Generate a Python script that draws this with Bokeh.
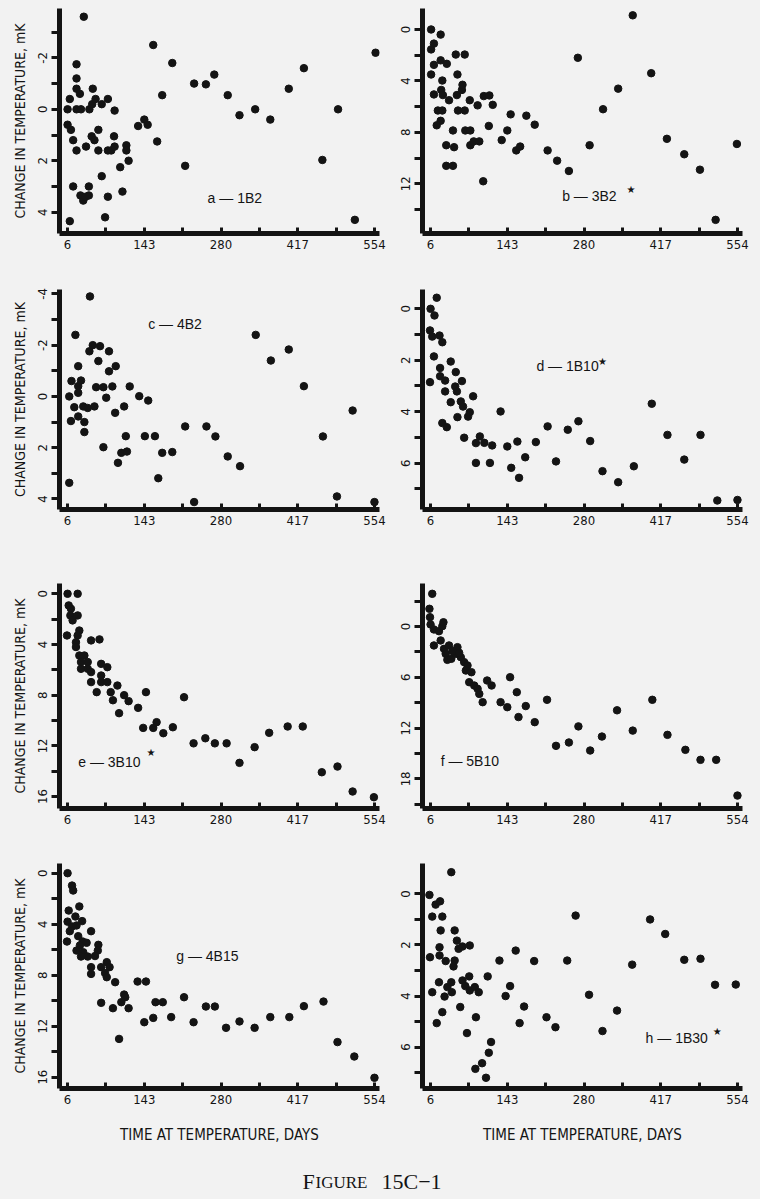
from bokeh.plotting import figure
from bokeh.layouts import column, row
from bokeh.models import Range1d, FixedTicker, Label
from bokeh.embed import file_html
from bokeh.resources import INLINE

# ---------------- data ----------------
x_ticks = [6, 74.5, 143, 211.5, 280, 348.5, 417, 485.5, 554]
x_tick_labels = ["6", "", "143", "", "280", "", "417", "", "554"]

days_a = [35, 6, 10, 6, 12, 16, 22, 22, 22, 22, 28, 22, 30, 16, 10, 29, 34, 38, 44, 44,
          39, 45, 51, 50, 56, 49, 54, 61, 61, 67, 78, 67, 73, 78, 78, 84, 90, 89, 90, 100,
          104, 111, 111, 115, 132, 143, 149, 159, 166, 175, 193, 216, 232, 253, 268, 292,
          313, 341, 368, 401, 428, 461, 489, 519, 556]
dT_a = [-3.6, 0.0, -0.4, 0.6, 0.8, 1.2, 1.6, -1.75, -1.2, -0.8, -0.6, 0.0, 0.0, 3.0, 4.35,
        3.35, 3.55, 3.4, 3.35, 3.0, 1.45, 0.0, -0.8, -0.2, -0.4, 1.05, 1.2, 0.8, 1.6, -0.2,
        -0.4, 2.6, 4.2, 3.4, 1.6, 1.6, 1.45, 1.05, 0.05, 2.25, 3.2, 1.4, 1.6, 2.0, 0.65, 0.4,
        0.6, -2.5, 1.25, -0.55, -1.8, 2.2, -1.0, -0.97, -1.35, -0.55, 0.23, 0.0, 0.4, -0.8,
        -1.6, 1.97, 0.0, 4.3, -2.2]

days_b = [7, 24, 12, 7, 12, 7, 24, 35, 27, 25, 28, 12, 19, 27, 24, 17, 39, 51, 67, 54,
          53, 62, 63, 55, 67, 46, 68, 77, 34, 48, 34, 46, 76, 77, 83, 93, 90, 101, 111, 117,
          110, 100, 133, 143, 149, 159, 166, 177, 192, 215, 232, 253, 269, 290, 314, 341,
          367, 400, 428, 459, 487, 515, 553]
dT_b = [0, 0.4, 1.1, 1.55, 2.75, 3.5, 2.4, 2.67, 3.97, 4.7, 5.1, 5.05, 6.3, 6.3, 7.1, 7.45,
        5.5, 1.95, 1.95, 3.5, 5.1, 4.7, 4.3, 6.3, 6.3, 7.85, 7.85, 7.85, 9.0, 9.15, 10.6,
        10.6, 5.5, 9.0, 8.7, 8.7, 5.9, 5.18, 5.13, 5.86, 7.5, 11.8, 8.6, 7.85, 6.6, 9.4, 9.1,
        6.7, 7.4, 9.4, 10.2, 11.0, 2.2, 9.0, 6.2, 4.6, -1.1, 3.4, 8.5, 9.7, 10.9, 14.8, 8.9]

days_c = [46, 20, 9, 13, 12, 9, 25, 30, 25, 25, 18, 25, 36, 36, 34, 42, 54, 45, 51, 64,
          61, 57, 70, 70, 75, 80, 80, 86, 92, 91, 96, 102, 112, 107, 110, 117, 134, 144, 150,
          162, 168, 175, 193, 216, 232, 254, 270, 292, 314, 342, 369, 401, 428, 462, 487,
          515, 554]
dT_c = [-3.9, -2.4, 0, -0.6, 0.96, 3.37, -1.18, -0.62, -0.4, -0.14, 0.42, 0.78, 1.0, 1.39,
        0.39, 0.45, 0.39, -1.76, -2.0, -1.96, -1.38, -0.36, -0.36, 1.98, 0.05, -1.76, -0.98,
        -0.39, -1.18, 0.64, 2.59, 2.2, 2.15, 0.39, 1.55, -0.39, -0.01, 1.55, 0.16, 1.55,
        3.19, 2.2, 2.17, 1.17, 4.12, 1.17, 1.56, 2.34, 2.72, -2.4, -1.4, -1.83, -0.4, 1.56,
        3.9, 0.55, 4.12]

days_d = [6, 17, 13, 5, 9, 22, 27, 12, 5, 23, 23, 32, 32, 42, 51, 50, 53, 62, 42, 60,
          64, 54, 73, 76, 82, 27, 35, 66, 87, 94, 102, 116, 87, 112, 131, 143, 161, 150, 164,
          175, 194, 215, 230, 251, 270, 291, 313, 341, 369, 401, 429, 459, 488, 518, 554]
dT_d = [0, -0.43, 0.26, 0.84, 1.08, 1.04, 1.3, 1.85, 2.85, 2.3, 2.62, 2.79, 3.21, 2.05,
        2.46, 3.02, 3.21, 2.81, 3.63, 3.6, 3.8, 4.21, 4.19, 4.02, 3.4, 4.44, 4.6, 5.01, 5.22,
        4.96, 5.21, 5.31, 5.99, 5.99, 3.99, 5.35, 5.16, 6.18, 6.57, 5.77, 5.18, 4.57, 5.93,
        4.7, 4.37, 5.14, 6.31, 6.74, 6.12, 3.69, 4.9, 5.86, 4.9, 7.45, 7.43]

days_e = [6, 24, 8, 12, 11, 24, 15, 5, 27, 24, 21, 21, 48, 63, 27, 36, 30, 30, 42, 42,
          48, 66, 77, 66, 66, 77, 48, 95, 58, 83, 107, 146, 87, 98, 115, 132, 141, 159, 165,
          177, 194, 214, 231, 252, 269, 290, 313, 340, 366, 399, 426, 460, 488, 515, 553]
dT_e = [0, 0, 0.92, 1.18, 1.71, 1.71, 2.1, 3.29, 2.9, 3.29, 3.82, 4.2, 3.68, 3.6, 4.87,
        4.87, 5.39, 5.92, 5.39, 5.92, 6.18, 5.53, 5.79, 6.45, 6.97, 6.97, 6.97, 7.24, 7.76,
        7.76, 8.0, 7.76, 8.4, 9.42, 8.47, 9.0, 10.58, 10.58, 10.13, 11.0, 10.53, 8.16, 11.8,
        11.4, 11.8, 11.8, 13.34, 12.1, 10.97, 10.47, 10.47, 14.08, 13.63, 15.6, 16.05]

days_f = [9, 4, 5, 6, 12, 21, 27, 29, 12, 24, 30, 39, 33, 36, 43, 54, 51, 60, 66, 72,
          69, 79, 75, 84, 90, 93, 99, 107, 115, 131, 143, 148, 160, 163, 176, 192, 214, 230,
          253, 270, 291, 312, 339, 367, 402, 429, 461, 488, 516, 554, 45, 57]
dT_f = [-3.86, -2.09, -1.1, -0.24, 0.35, 0.55, -0.04, -0.5, 2.24, 1.65, 2.64, 2.24, 3.23,
        3.94, 3.82, 2.44, 3.23, 3.62, 4.21, 4.6, 5.2, 5.4, 6.58, 6.97, 7.36, 7.96, 8.94,
        6.38, 6.97, 8.94, 9.53, 5.99, 7.76, 10.7, 9.4, 11.3, 8.66, 14.1, 13.7, 11.8, 14.65,
        13.0, 9.9, 12.3, 8.66, 12.8, 14.57, 15.75, 15.75, 19.97, 2.9, 3.1]

days_g = [6, 14, 16, 8, 27, 20, 6, 32, 14, 22, 10, 48, 5, 25, 33, 40, 28, 61, 22, 34,
          60, 30, 42, 55, 76, 81, 48, 66, 48, 73, 76, 91, 66, 87, 98, 102, 107, 109, 115, 131,
          146, 143, 159, 163, 176, 191, 214, 231, 253, 269, 289, 313, 340, 368, 402, 428,
          463, 488, 518, 554]
dT_g = [0, 0.97, 1.36, 2.93, 2.61, 3.4, 3.8, 3.76, 4.18, 4.1, 4.55, 4.55, 5.36, 4.94, 5.36,
        5.46, 5.67, 5.62, 6.07, 6.2, 6.07, 6.54, 6.54, 6.5, 6.98, 7.37, 7.37, 7.37, 7.9, 7.84,
        8.16, 8.55, 10.17, 10.59, 13.0, 10.12, 9.52, 9.73, 10.59, 8.5, 8.5, 11.69, 11.35,
        10.12, 10.12, 11.29, 9.73, 11.69, 10.46, 10.46, 12.13, 11.63, 12.13, 11.29, 11.29,
        10.43, 10.07, 13.25, 14.38, 16.05]

days_h = [43, 4, 15, 23, 9, 27, 24, 49, 22, 53, 56, 63, 76, 5, 22, 33, 49, 47, 21, 9,
          36, 43, 44, 31, 63, 68, 75, 76, 85, 92, 27, 17, 59, 71, 87, 108, 114, 110, 98, 86,
          105, 129, 140, 148, 158, 165, 173, 191, 213, 229, 250, 265, 289, 313, 339, 366,
          398, 425, 459, 488, 514, 551]
dT_h = [-0.85, 0.04, 0.42, 0.29, 0.89, 0.89, 1.43, 1.43, 2.09, 1.83, 2.15, 2.06, 2.02, 2.48,
        2.41, 2.63, 2.61, 2.84, 3.46, 3.85, 3.65, 3.46, 3.85, 4.02, 3.39, 3.61, 3.23, 3.78,
        3.65, 3.85, 4.63, 5.06, 4.43, 5.45, 4.83, 3.23, 5.8, 6.22, 6.63, 6.85, 7.2, 2.61,
        4.0, 3.61, 2.22, 5.06, 4.41, 2.63, 4.83, 5.22, 2.61, 0.85, 3.95, 5.37, 4.57, 2.77,
        1.0, 1.57, 2.58, 2.54, 3.56, 3.55]

yticks_a = [-3, -2, -1, 0, 1, 2, 3, 4]
ylabels_a = ["", "-2", "", "0", "", "2", "", "4"]
yticks_b = [0, 2, 4, 6, 8, 10, 12, 14]
ylabels_b = ["0", "", "4", "", "8", "", "12", ""]
yticks_c = [-4, -3, -2, -1, 0, 1, 2, 3, 4]
ylabels_c = ["-4", "", "-2", "", "0", "", "2", "", "4"]
yticks_d = [0, 1, 2, 3, 4, 5, 6, 7]
ylabels_d = ["0", "", "2", "", "4", "", "6", ""]
yticks_e = [0, 2, 4, 6, 8, 10, 12, 14, 16]
ylabels_e = ["0", "", "4", "", "8", "", "12", "", "16"]
yticks_f = [-3, 0, 3, 6, 9, 12, 15, 18, 21]
ylabels_f = ["", "0", "", "6", "", "12", "", "18", ""]
yticks_g = [0, 2, 4, 6, 8, 10, 12, 14, 16]
ylabels_g = ["0", "", "4", "", "8", "", "12", "", "16"]
yticks_h = [0, 1, 2, 3, 4, 5, 6, 7]
ylabels_h = ["0", "", "2", "", "4", "", "6", ""]

panel_names = ["a — 1B2", "b — 3B2", "c — 4B2", "d — 1B10",
               "e — 3B10", "f — 5B10", "g — 4B15", "h — 1B30"]
panel_starred = [False, True, False, True, True, False, False, True]

y_title = "CHANGE IN TEMPERATURE, mK"
x_title = "TIME AT TEMPERATURE, DAYS"

# ---------------- style / layout ----------------
BG = "#f2f2f2"
INK = "#141414"
NARROW = "'Liberation Sans Narrow', 'DejaVu Sans Condensed', sans-serif"
REG = "'Liberation Sans', Arial, sans-serif"

# (top value, bottom value) of each frame -- inverted axes
y_limits = [(-3.92, 4.83), (-1.63, 15.86), (-4.17, 4.41), (-0.75, 7.80),
            (-0.81, 16.94), (-5.08, 21.5), (-0.76, 16.89), (-1.19, 7.62)]
# label anchor (data coords) and star anchor
label_pos = [(256, 3.46), (241, 12.95), (150, -2.84), (195, 2.24),
             (25, 13.29), (24, 15.84), (200, 6.46), (390, 5.63)]
star_pos = [None, (364, 12.45), None, (313, 2.05), (155, 12.5), None, None, (518, 5.4)]

# rows: (fig height, border top, border bottom)
row_geom = [(273, 8, 40), (295, 16, 59), (280, 15, 40), (310, 15, 70)]

panels = [
    (days_a, dT_a, yticks_a, ylabels_a), (days_b, dT_b, yticks_b, ylabels_b),
    (days_c, dT_c, yticks_c, ylabels_c), (days_d, dT_d, yticks_d, ylabels_d),
    (days_e, dT_e, yticks_e, ylabels_e), (days_f, dT_f, yticks_f, ylabels_f),
    (days_g, dT_g, yticks_g, ylabels_g), (days_h, dT_h, yticks_h, ylabels_h),
]


def make_panel(i):
    days, vals, yt, yl = panels[i]
    r, c = divmod(i, 2)
    h, bt, bb = row_geom[r]
    left = (c == 0)
    w = 389 if left else 371
    bl = 59 if left else 33
    br = 10 if left else 18
    top, bottom = y_limits[i]
    p = figure(width=w, height=h, x_range=Range1d(-8.4, 563),
               y_range=Range1d(bottom, top),
               output_backend="svg", toolbar_location=None,
               min_border_left=bl, min_border_right=br,
               min_border_top=bt, min_border_bottom=bb,
               background_fill_color=BG, border_fill_color=BG,
               outline_line_color=None)
    p.grid.visible = False
    p.scatter(days, vals, size=7.5, color=INK, line_color=INK)

    xa = p.xaxis[0]
    xa.ticker = FixedTicker(ticks=x_ticks)
    xa.major_label_overrides = {t: s for t, s in zip(x_ticks, x_tick_labels)}
    xa.axis_line_width = 5
    xa.axis_line_color = INK
    xa.major_tick_in = 6
    xa.major_tick_out = 0
    xa.major_tick_line_width = 3
    xa.major_tick_line_color = INK
    xa.minor_tick_line_color = None
    xa.major_label_text_font = NARROW
    xa.major_label_text_font_size = "13px"
    xa.major_label_text_color = INK
    xa.major_label_standoff = 6
    if r == 3:
        xa.axis_label = x_title
        xa.axis_label_text_font = NARROW
        xa.axis_label_text_font_size = "15px"
        xa.axis_label_text_font_style = "normal"
        xa.axis_label_text_color = INK
        xa.axis_label_standoff = 19

    ya = p.yaxis[0]
    ya.ticker = FixedTicker(ticks=yt)
    ya.major_label_overrides = {t: s for t, s in zip(yt, yl)}
    ya.axis_line_width = 5
    ya.axis_line_color = INK
    ya.major_tick_in = 0
    ya.major_tick_out = 8
    ya.major_tick_line_width = 3
    ya.major_tick_line_color = INK
    ya.minor_tick_line_color = None
    ya.major_label_orientation = "vertical"
    ya.major_label_text_font = NARROW
    ya.major_label_text_font_size = "13px"
    ya.major_label_text_color = INK
    ya.major_label_standoff = 4
    if left:
        ya.axis_label = y_title
        ya.axis_label_text_font = NARROW
        ya.axis_label_text_font_size = "14px"
        ya.axis_label_text_font_style = "normal"
        ya.axis_label_text_color = INK
        ya.axis_label_standoff = 8

    lx, ly = label_pos[i]
    p.add_layout(Label(x=lx, y=ly, text=panel_names[i], text_font=REG,
                       text_font_size="14px", text_color=INK,
                       text_align="left", text_baseline="middle"))
    if panel_starred[i]:
        sx, sy = star_pos[i]
        p.add_layout(Label(x=sx, y=sy, text="★", text_font="DejaVu Sans",
                           text_font_size="10px", text_color=INK,
                           text_align="center", text_baseline="middle"))
    return p


figs = [make_panel(i) for i in range(8)]

cap = figure(width=760, height=41, x_range=Range1d(0, 760), y_range=Range1d(0, 41),
             output_backend="svg", toolbar_location=None,
             min_border=0, background_fill_color=BG, border_fill_color=BG,
             outline_line_color=None)
cap.axis.visible = False
cap.grid.visible = False
SERIF = "'Liberation Serif', 'DejaVu Serif', serif"
cap.add_layout(Label(x=302, y=18, text="F", text_font=SERIF, text_font_size="22px",
                     text_color=INK, text_baseline="middle"))
cap.add_layout(Label(x=315, y=18, text="IGURE", text_font=SERIF, text_font_size="17px",
                     text_color=INK, text_baseline="middle", y_offset=-1))
cap.add_layout(Label(x=381, y=18, text="15C−1", text_font=SERIF, text_font_size="22px",
                     text_color=INK, text_baseline="middle"))

layout = column(row(figs[0], figs[1]), row(figs[2], figs[3]),
                row(figs[4], figs[5]), row(figs[6], figs[7]), cap,
                styles={"background-color": BG})

open("out.html", "w").write(file_html(layout, INLINE))
